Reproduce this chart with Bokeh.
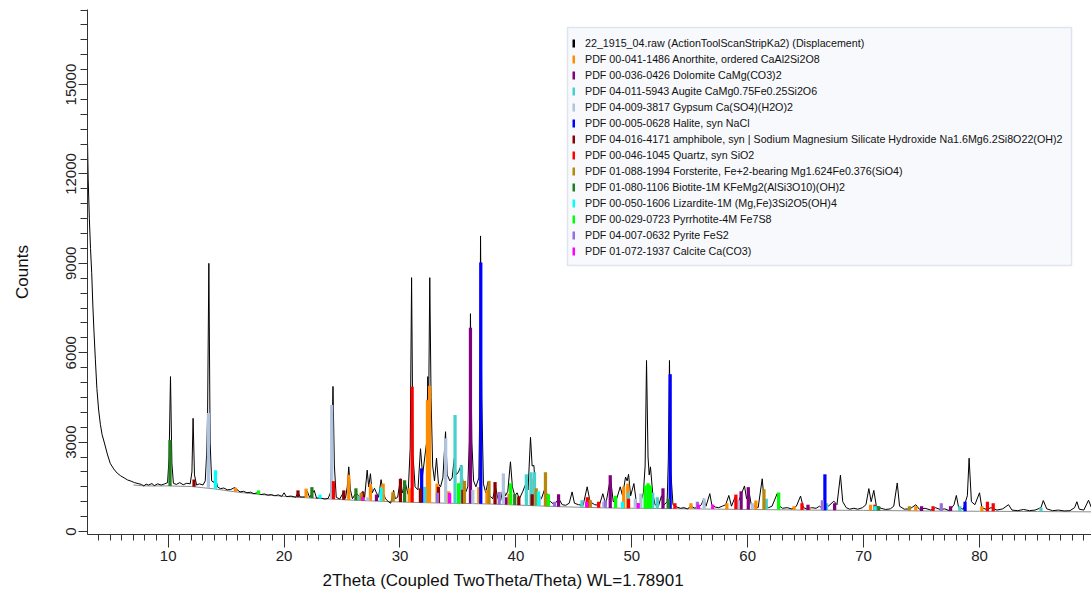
import numpy as np
from bokeh.plotting import figure
from bokeh.models import Range1d, SingleIntervalTicker, Legend, LegendItem, BoxAnnotation, Title
from bokeh.embed import file_html
from bokeh.resources import INLINE

# ---------------- data ----------------
# measured scan: (2theta, counts) vertices
SCAN_POINTS = [
    (3.04, 13100), (3.10, 11800), (3.20, 10500), (3.30, 9500), (3.40, 8700), (3.50, 7600),
    (3.60, 6700), (3.72, 5760), (3.85, 4800), (4.00, 4080), (4.15, 3600), (4.30, 3250),
    (4.50, 2970), (4.75, 2600), (5.00, 2290), (5.30, 2100), (5.60, 1960), (5.90, 1870),
    (6.20, 1800), (6.50, 1730), (6.80, 1690), (7.10, 1640), (7.40, 1610), (7.70, 1580),
    (7.90, 1530), (8.10, 1590), (8.30, 1560), (8.60, 1610), (8.80, 1540), (9.10, 1600),
    (9.40, 1560), (9.70, 1600), (9.95, 1640), (10.08, 2500), (10.20, 5200), (10.32, 2300),
    (10.45, 1620), (10.70, 1580), (11.00, 1640), (11.30, 1570), (11.60, 1620), (11.90, 1600),
    (12.05, 2000), (12.15, 3800), (12.27, 1900), (12.45, 1560), (12.70, 1600), (13.00, 1560),
    (13.20, 1700), (13.32, 2600), (13.40, 3900), (13.51, 9000), (13.62, 3000), (13.75, 1700),
    (13.95, 1650), (14.08, 1830), (14.25, 1500), (14.50, 1440), (14.80, 1460), (15.10, 1400),
    (15.40, 1410), (15.75, 1480), (15.95, 1400), (16.20, 1330), (16.50, 1350), (16.80, 1300),
    (17.10, 1320), (17.40, 1270), (17.70, 1300), (18.00, 1240), (18.30, 1260), (18.60, 1220),
    (18.90, 1240), (19.20, 1200), (19.50, 1230), (19.80, 1180), (20.00, 1300), (20.20, 1170),
    (20.60, 1190), (21.00, 1150), (21.20, 1300), (21.40, 1160), (21.80, 1160), (22.00, 1350),
    (22.20, 1150), (22.60, 1380), (22.80, 1120), (23.10, 1130), (23.50, 1090), (23.80, 1110),
    (24.00, 1300), (24.12, 2800), (24.22, 4870), (24.34, 2200), (24.50, 1150), (24.80, 1090),
    (25.10, 1300), (25.30, 1120), (25.45, 1500), (25.58, 2170), (25.72, 1400), (25.90, 1100),
    (26.20, 1300), (26.45, 1200), (26.65, 1100), (26.80, 1350), (26.95, 1150), (27.17, 2060),
    (27.30, 1500), (27.45, 1940), (27.60, 1300), (27.80, 1450), (27.97, 1300), (28.15, 1150),
    (28.37, 1740), (28.55, 1300), (28.75, 1100), (29.00, 1000), (29.20, 950), (29.45, 1380),
    (29.60, 1100), (29.80, 1150), (30.04, 1770), (30.20, 1300), (30.47, 1610), (30.70, 1250),
    (30.88, 2800), (31.00, 8520), (31.12, 2600), (31.30, 1500), (31.55, 1400), (31.77, 2780),
    (31.95, 1900), (32.14, 2500), (32.30, 3000), (32.40, 5200), (32.47, 4000), (32.57, 8520),
    (32.68, 4500), (32.82, 2200), (32.98, 1700), (33.15, 2460), (33.32, 1600), (33.50, 1500),
    (33.70, 1800), (33.93, 3350), (34.08, 1900), (34.30, 1700), (34.50, 1800), (34.68, 2450),
    (34.85, 1900), (35.05, 2000), (35.28, 2225), (35.45, 1600), (35.65, 1300), (35.85, 1500),
    (35.98, 3000), (36.08, 7310), (36.20, 3000), (36.35, 1700), (36.55, 1500), (36.80, 1800),
    (36.88, 4000), (36.95, 9920), (37.05, 4500), (37.20, 1600), (37.40, 1300), (37.58, 1660),
    (37.75, 1200), (38.00, 1100), (38.24, 1500), (38.45, 1100), (38.70, 1050), (38.90, 1500),
    (39.10, 1200), (39.30, 1350), (39.53, 2340), (39.70, 1500), (39.90, 1200), (40.10, 1300),
    (40.30, 1100), (40.60, 1350), (40.85, 1600), (41.05, 1400), (41.26, 3160), (41.40, 2200),
    (41.55, 2220), (41.70, 1400), (41.90, 1200), (42.20, 1100), (42.55, 1500), (42.75, 1100),
    (43.00, 1000), (43.30, 900), (43.70, 1100), (44.00, 900), (44.30, 880), (44.60, 950),
    (44.85, 1330), (45.05, 950), (45.40, 900), (45.80, 880), (46.15, 1500), (46.40, 1000),
    (46.80, 900), (47.20, 880), (47.50, 1270), (47.75, 900), (48.16, 1800), (48.40, 1000),
    (48.70, 1100), (49.00, 1500), (49.20, 1200), (49.46, 1830), (49.60, 1700), (49.72, 1920),
    (49.90, 1200), (50.18, 1610), (50.40, 950), (50.70, 900), (51.00, 1300), (51.15, 2200),
    (51.27, 5740), (51.40, 2500), (51.50, 1900), (51.61, 2170), (51.80, 1300), (52.00, 900),
    (52.30, 850), (52.56, 1200), (52.75, 880), (53.05, 1000), (53.15, 2400), (53.25, 5740),
    (53.37, 2000), (53.55, 900), (53.90, 820), (54.20, 780), (54.50, 800), (54.80, 760),
    (55.10, 850), (55.40, 790), (55.70, 800), (56.00, 900), (56.20, 1100), (56.40, 850),
    (56.73, 1270), (56.90, 900), (57.20, 820), (57.50, 800), (57.80, 850), (58.10, 900),
    (58.37, 1210), (58.60, 850), (58.90, 1150), (59.10, 900), (59.40, 1200), (59.72, 1530),
    (59.90, 1100), (60.10, 1380), (60.30, 900), (60.60, 850), (60.90, 800), (61.25, 1770),
    (61.45, 900), (61.80, 800), (62.10, 850), (62.54, 1270), (62.75, 850), (63.00, 780),
    (63.40, 800), (63.80, 760), (64.20, 850), (64.56, 1190), (64.80, 800), (65.10, 760),
    (65.50, 800), (65.90, 780), (66.20, 850), (66.50, 750), (66.80, 800), (67.10, 900),
    (67.43, 1020), (67.70, 900), (68.00, 1890), (68.20, 1000), (68.50, 800), (68.80, 750),
    (69.16, 780), (69.50, 750), (69.90, 800), (70.20, 900), (70.45, 1440), (70.65, 1000),
    (70.88, 1380), (71.10, 850), (71.50, 780), (71.90, 740), (72.30, 760), (72.60, 850),
    (72.90, 1630), (73.10, 850), (73.50, 750), (74.00, 760), (74.50, 900), (74.80, 750),
    (75.30, 780), (75.80, 720), (76.20, 800), (76.60, 740), (77.00, 760), (77.40, 700),
    (77.80, 900), (78.00, 1210), (78.20, 800), (78.60, 750), (78.95, 1200), (79.10, 2460),
    (79.30, 1000), (79.60, 900), (80.00, 1300), (80.20, 800), (80.60, 740), (81.00, 800),
    (81.50, 720), (82.00, 760), (82.50, 900), (82.80, 720), (83.30, 700), (83.80, 740),
    (84.30, 700), (84.80, 720), (85.30, 800), (85.50, 1040), (85.80, 760), (86.30, 700),
    (86.80, 720), (87.30, 690), (87.80, 700), (88.20, 800), (88.40, 1000), (88.60, 750),
    (89.00, 720), (89.40, 1050), (89.70, 760),
]
SCAN_2THETA = [p[0] for p in SCAN_POINTS]
SCAN_COUNTS = [p[1] for p in SCAN_POINTS]

# fitted background (thin grey line)
BG_2THETA = [7.0, 8.0, 10.0, 12.0, 14.0, 16.0, 18.0, 20.0, 22.0, 24.0, 26.0, 28.0, 30.0,
             32.0, 34.0, 36.0, 38.0, 40.0, 42.0, 44.0, 46.0, 48.0, 50.0, 55.0, 60.0,
             65.0, 70.0, 75.0, 80.0, 85.0, 89.7]
BG_COUNTS = [1560, 1530, 1530, 1510, 1430, 1320, 1240, 1180, 1130, 1090, 1050, 1020, 990,
             970, 950, 940, 920, 890, 860, 830, 810, 790, 780, 760, 740,
             720, 710, 690, 680, 670, 660]

SCAN_LABEL = "22_1915_04.raw (ActionToolScanStripKa2) (Displacement)"

PHASE_LABELS = [
    "PDF 00-041-1486 Anorthite, ordered CaAl2Si2O8",
    "PDF 00-036-0426 Dolomite CaMg(CO3)2",
    "PDF 04-011-5943 Augite CaMg0.75Fe0.25Si2O6",
    "PDF 04-009-3817 Gypsum Ca(SO4)(H2O)2",
    "PDF 00-005-0628 Halite, syn NaCl",
    "PDF 04-016-4171 amphibole, syn | Sodium Magnesium Silicate Hydroxide Na1.6Mg6.2Si8O22(OH)2",
    "PDF 00-046-1045 Quartz, syn SiO2",
    "PDF 01-088-1994 Forsterite, Fe+2-bearing Mg1.624Fe0.376(SiO4)",
    "PDF 01-080-1106 Biotite-1M KFeMg2(AlSi3O10)(OH)2",
    "PDF 00-050-1606 Lizardite-1M (Mg,Fe)3Si2O5(OH)4",
    "PDF 00-029-0723 Pyrrhotite-4M Fe7S8",
    "PDF 04-007-0632 Pyrite FeS2",
    "PDF 01-072-1937 Calcite Ca(CO3)",
]
PHASE_COLORS = ["#ff8c00", "#800080", "#48d1cc", "#b0c4de", "#0000ff", "#8b0000", "#ff0000",
                "#b8860b", "#1f7f1f", "#00ffff", "#00ff00", "#9370db", "#ff00ff"]

# stick positions (2theta) and stick tops (counts) per phase
ANORTHITE_2THETA = [15.8, 21.9, 25.58, 27.45, 28.55, 29.4, 30.8, 32.37, 32.55, 33.2, 34.2, 35.3,
                    36.8, 37.5, 39.4, 41.55, 46.2, 49.3, 49.65, 55.1, 58.2, 60.7, 64.0, 65.3, 70.6,
                    74.5, 80.2]
ANORTHITE_TOP = [1470, 1440, 1900, 1600, 1610, 1330, 1450, 4410, 4890, 1610, 1350, 1660,
                 1490, 1400, 1270, 1770, 1150, 1500, 1610, 950, 950, 1040, 850, 820, 900,
                 850, 850]
DOLOMITE_2THETA = [27.97, 36.08, 39.14, 43.68, 48.14, 52.69, 59.43, 60.05, 65.2, 67.5, 75.0, 77.5]
DOLOMITE_TOP = [1240, 6840, 1150, 1250, 1890, 1450, 1350, 1490, 900, 950, 850, 850]
AUGITE_2THETA = [26.5, 32.15, 34.75, 35.3, 40.9, 41.3, 41.6, 45.7, 49.7, 51.8, 52.2, 61.6, 66.8,
                 71.0, 78.3, 85.3]
AUGITE_TOP = [1200, 1500, 3910, 2220, 1920, 1990, 1990, 1050, 1300, 1300, 1150, 1100, 950,
              900, 850, 800]
GYPSUM_2THETA = [13.47, 24.11, 27.23, 33.94, 36.28, 38.92, 42.02, 47.57, 50.3, 50.78, 56.24,
                 59.17, 60.4]
GYPSUM_TOP = [3980, 4250, 1150, 3130, 1400, 1950, 1200, 1000, 1100, 1270, 1110, 1050, 950]
HALITE_2THETA = [31.87, 36.97, 53.31, 66.66, 78.75]
HALITE_TOP = [2120, 9030, 5280, 1920, 1000]
AMPHIBOLE_2THETA = [12.23, 21.2, 25.15, 26.8, 30.04, 31.76, 33.32, 35.43, 38.2, 40.25, 41.4]
AMPHIBOLE_TOP = [1750, 1380, 1380, 1330, 1770, 1450, 1500, 1400, 1660, 1180, 1250]
QUARTZ_2THETA = [24.26, 31.05, 42.70, 46.16, 47.14, 49.72, 53.72, 58.98, 64.68, 70.98, 75.99,
                 80.68, 81.18]
QUARTZ_TOP = [1690, 4860, 1250, 1150, 1000, 1100, 950, 1240, 950, 900, 850, 1000, 950]
FORSTERITE_2THETA = [26.65, 29.4, 35.56, 37.68, 41.76, 42.55, 46.42, 61.4, 73.95]
FORSTERITE_TOP = [1300, 1300, 1700, 1700, 1450, 1990, 1050, 1420, 850]
BIOTITE_2THETA = [10.16, 22.4, 26.2, 30.4, 39.9, 53.14, 71.3]
BIOTITE_TOP = [3070, 1490, 1450, 1720, 1250, 1100, 850]
LIZARDITE_2THETA = [14.08, 23.1, 28.37, 41.94, 49.2, 70.98]
LIZARDITE_TOP = [2060, 1240, 1470, 1350, 1000, 850]
PYRRHOTITE_2THETA = [17.8, 35.06, 39.55, 42.8, 48.6, 51.15, 51.4, 51.6, 62.67]
PYRRHOTITE_TOP = [1380, 1620, 1620, 1250, 1200, 1550, 1620, 1550, 1310]
PYRITE_2THETA = [33.23, 38.56, 43.33, 47.71, 55.66, 66.44, 76.7]
PYRITE_TOP = [1300, 1330, 1000, 1050, 1000, 1050, 950]
CALCITE_2THETA = [26.79, 34.28, 46.10, 50.55, 55.76, 56.98]
CALCITE_TOP = [1150, 1290, 1000, 950, 900, 900]

PHASE_2THETA = [ANORTHITE_2THETA, DOLOMITE_2THETA, AUGITE_2THETA, GYPSUM_2THETA, HALITE_2THETA,
                AMPHIBOLE_2THETA, QUARTZ_2THETA, FORSTERITE_2THETA, BIOTITE_2THETA,
                LIZARDITE_2THETA, PYRRHOTITE_2THETA, PYRITE_2THETA, CALCITE_2THETA]
PHASE_TOP = [ANORTHITE_TOP, DOLOMITE_TOP, AUGITE_TOP, GYPSUM_TOP, HALITE_TOP, AMPHIBOLE_TOP,
             QUARTZ_TOP, FORSTERITE_TOP, BIOTITE_TOP, LIZARDITE_TOP, PYRRHOTITE_TOP,
             PYRITE_TOP, CALCITE_TOP]

X_TITLE = "2Theta (Coupled TwoTheta/Theta) WL=1.78901"
Y_TITLE = "Counts"

# ---------------- figure ----------------
FONT = "Liberation Sans"
p = figure(width=1091, height=604, output_backend="svg", toolbar_location=None,
           x_range=Range1d(3.04, 89.66), y_range=Range1d(-100, 17520),
           min_border_left=87, min_border_right=0, min_border_top=9, min_border_bottom=70)
p.outline_line_color = None
p.grid.visible = False
p.background_fill_color = "white"
p.border_fill_color = "white"

p.xaxis.ticker = SingleIntervalTicker(interval=10, num_minor_ticks=10)
p.yaxis.ticker = SingleIntervalTicker(interval=3000, num_minor_ticks=6)
for ax in (p.xaxis[0], p.yaxis[0]):
    ax.axis_line_color = "#333333"
    ax.major_tick_line_color = "#333333"
    ax.minor_tick_line_color = "#333333"
    ax.major_tick_in = 0
    ax.minor_tick_in = 0
    ax.major_label_text_font = FONT
    ax.major_label_text_font_size = "15px"
    ax.major_label_text_color = "#222222"
p.xaxis.major_tick_out = 13
p.xaxis.minor_tick_out = 6
p.xaxis.major_label_standoff = 3
p.yaxis.major_tick_out = 9
p.yaxis.minor_tick_out = 7
p.yaxis.major_label_standoff = 2
p.yaxis.major_label_orientation = "vertical"

p.yaxis.axis_label = Y_TITLE
p.yaxis.axis_label_text_font = FONT
p.yaxis.axis_label_text_font_size = "17px"
p.yaxis.axis_label_text_font_style = "normal"
p.yaxis.axis_label_text_color = "#111111"
p.yaxis.axis_label_standoff = 32

# background and scan
p.line(BG_2THETA, BG_COUNTS, line_color="#8c8c8c", line_width=1)
p.line(SCAN_2THETA, SCAN_COUNTS, line_color="black", line_width=1)

# sticks of the reference patterns
for col, xs, tops in zip(PHASE_COLORS, PHASE_2THETA, PHASE_TOP):
    bottoms = np.interp(xs, BG_2THETA, BG_COUNTS)
    p.vbar(x=xs, bottom=bottoms, top=tops, width=0.28, fill_color=col, line_color=None)

# legend markers: short thick strokes drawn off-range (only visible in the legend)
items = []
for lab, col in zip([SCAN_LABEL] + PHASE_LABELS, ["black"] + PHASE_COLORS):
    r = p.line(x=[-60, -59], y=[0, 0], line_color=col, line_width=8, line_cap="butt")
    items.append(LegendItem(label=lab, renderers=[r]))

# legend frame (box) behind the legend entries
p.add_layout(BoxAnnotation(left=44.45, right=87.94, top=16916, bottom=8928,
                           fill_color="#f8f9fc", fill_alpha=1.0,
                           line_color="#9fb0cc", line_width=1.5))

legend = Legend(items=items, location=(485, 275), orientation="vertical",
                glyph_width=3, glyph_height=16, label_height=16, spacing=0, padding=0,
                margin=0, label_standoff=10, label_text_font=FONT, label_text_font_size="10.7px",
                label_text_color="#111111", border_line_color=None,
                background_fill_alpha=0.0)
p.add_layout(legend)

# x axis title, placed below the axis where the reference shows it
p.add_layout(Title(text=X_TITLE, align="left", offset=235, text_font=FONT,
                   text_font_size="17px", text_font_style="normal", text_color="#111111",
                   standoff=11), "below")

open("out.html", "w").write(file_html(p, INLINE))
